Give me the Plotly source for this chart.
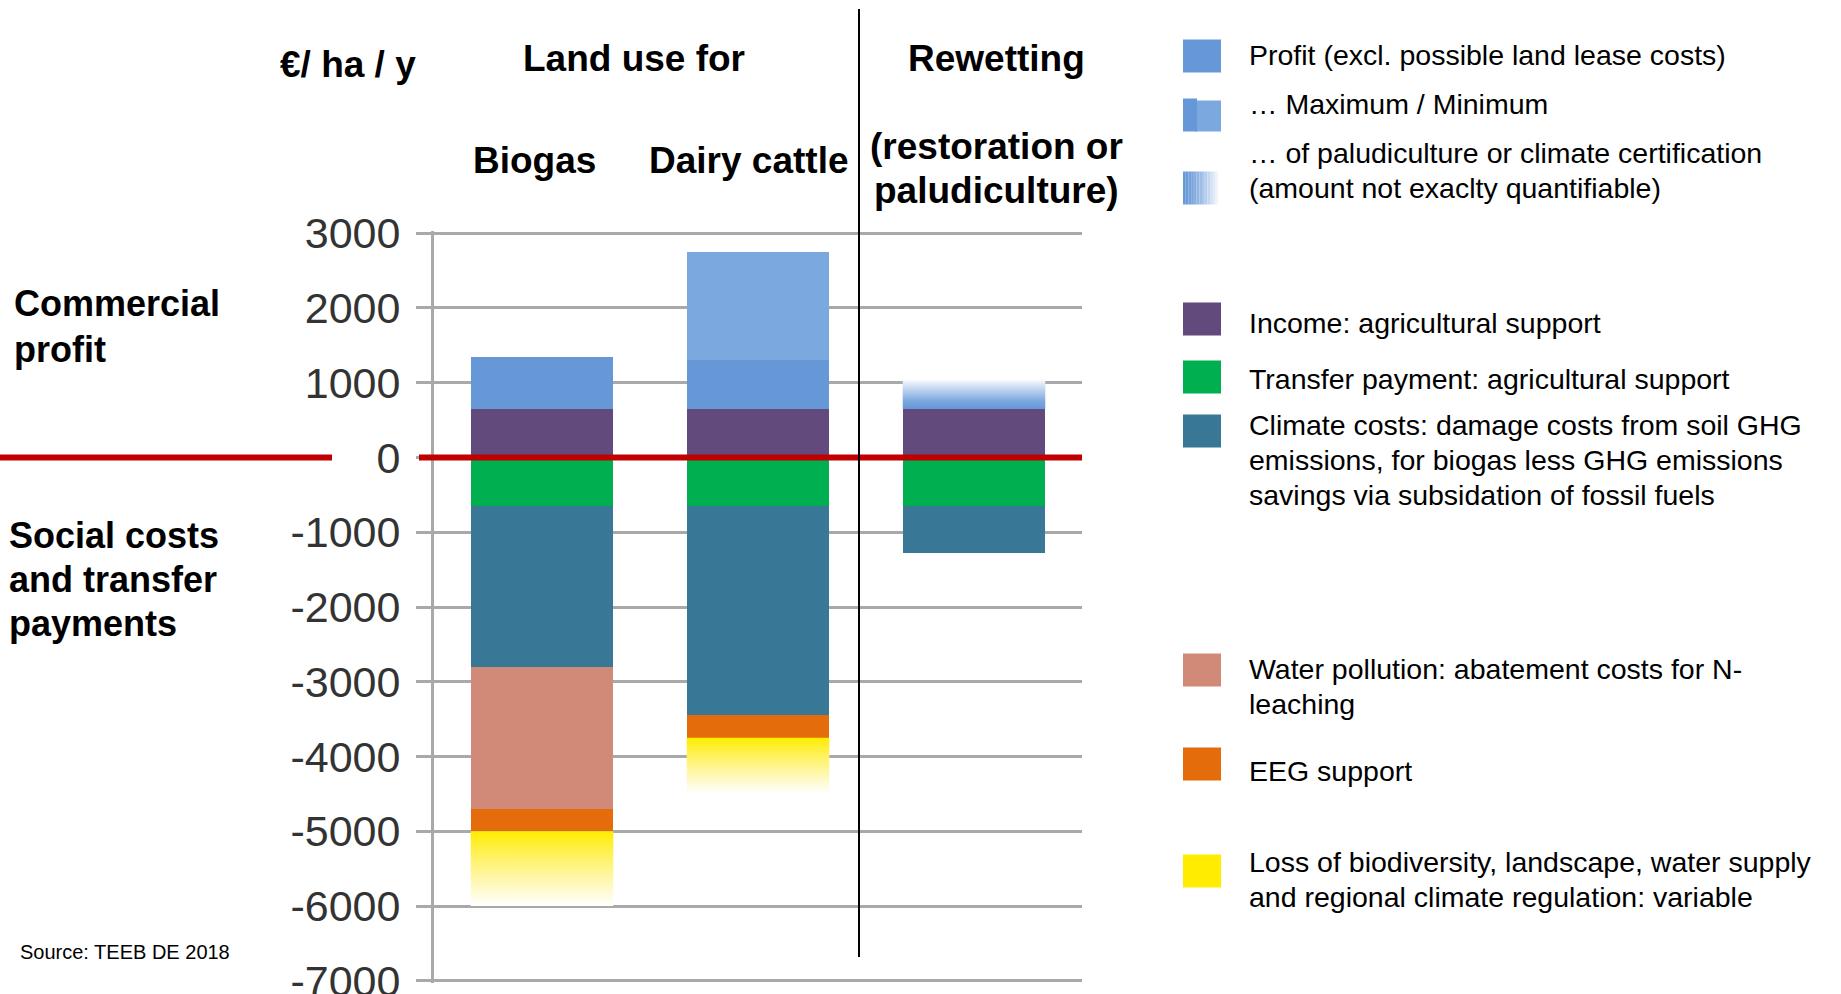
import numpy as np
import plotly.graph_objects as go

# ---------------- data ----------------
categories = ["Biogas", "Dairy cattle", "Rewetting"]
income_support = [650, 650, 650]          # purple
profit = [700, 650, 0]                     # blue (profit, minimum)
profit_max = [0, 1450, 0]                  # light blue (maximum)
profit_uncertain = [0, 0, 400]             # gradient (paludiculture / certification)
transfer_payment = [-650, -650, -650]      # green
climate_costs = [-2150, -2800, -630]       # teal
water_pollution = [-1900, 0, 0]            # salmon
eeg_support = [-300, -300, 0]              # orange
biodiversity_loss = [-1000, -750, 0]       # yellow gradient (variable)

tick_values = [-7000, -6000, -5000, -4000, -3000, -2000, -1000, 0, 1000, 2000, 3000]
tick_labels = [str(v) for v in tick_values]

legend_items = [
    ("Profit (excl. possible land lease costs)",),
    ("… Maximum / Minimum",),
    ("… of paludiculture or climate certification", "(amount not exaclty quantifiable)"),
    ("Income: agricultural support",),
    ("Transfer payment: agricultural support",),
    ("Climate costs: damage costs from soil GHG", "emissions, for biogas less GHG emissions",
     "savings via subsidation of fossil fuels"),
    ("Water pollution: abatement costs for N-", "leaching"),
    ("EEG support",),
    ("Loss of biodiversity, landscape, water supply", "and regional climate regulation: variable"),
]

# ---------------- styles ----------------
C_PROFIT = "#6698d8"
C_MAX = "#7ba8df"
C_INCOME = "#624a7c"
C_TRANSFER = "#00b050"
C_CLIMATE = "#387896"
C_WATER = "#d28a78"
C_EEG = "#e46c0a"
C_YELLOW = "#ffec00"
GRID = "#a9a9a9"
FONT = "Liberation Sans, Arial, sans-serif"

W, H = 1841, 994
PL, PR, PT, PB = 434, 1082, 231, 983
Y_RANGE = [-7030, 3030]
BAR_W = 0.66


def px_x(p):
    return (p - PL) / (PR - PL)


def px_y(p):
    return (PB - p) / (PB - PT)


idx = np.arange(len(categories))
fig = go.Figure()

solid = [
    (income_support, C_INCOME),
    (profit, C_PROFIT),
    (profit_max, C_MAX),
    (transfer_payment, C_TRANSFER),
    (climate_costs, C_CLIMATE),
    (water_pollution, C_WATER),
    (eeg_support, C_EEG),
]
for vals, col in solid:
    fig.add_trace(go.Bar(x=idx, y=vals, width=BAR_W, marker=dict(color=col, line=dict(width=0)),
                         hoverinfo="skip", showlegend=False))


def gradient_segment(i, base, value, colorscale):
    x0, x1 = idx[i] - BAR_W / 2, idx[i] + BAR_W / 2
    fig.add_trace(go.Scatter(
        x=[x0, x1, x1, x0, x0], y=[base, base, base + value, base + value, base],
        mode="lines", line=dict(width=0), fill="toself",
        fillgradient=dict(type="vertical", colorscale=colorscale),
        hoverinfo="skip", showlegend=False))


pos_base = np.array(income_support) + np.array(profit) + np.array(profit_max)
neg_base = (np.array(transfer_payment) + np.array(climate_costs) + np.array(water_pollution)
            + np.array(eeg_support))
for i in range(len(categories)):
    if profit_uncertain[i]:
        gradient_segment(i, pos_base[i], profit_uncertain[i],
                         [[0, C_PROFIT], [0.25, "#7aa6de"], [0.75, "#cfdff4"], [1, "#ffffff"]])
    if biodiversity_loss[i]:
        gradient_segment(i, neg_base[i], biodiversity_loss[i],
                         [[0, "#ffffff"], [0.35, "#fff7b0"], [0.75, "#fff04a"], [1, C_YELLOW]])

shapes = [
    # zero line (red)
    dict(type="line", xref="paper", yref="y", x0=px_x(0), x1=px_x(332), y0=0, y1=0,
         line=dict(color="#c00000", width=6), layer="above"),
    dict(type="line", xref="paper", yref="y", x0=px_x(419), x1=px_x(1082), y0=0, y1=0,
         line=dict(color="#c00000", width=6), layer="above"),
    # separator line
    dict(type="line", xref="paper", yref="paper", x0=px_x(859), x1=px_x(859), y0=px_y(957), y1=px_y(9),
         line=dict(color="black", width=2), layer="above"),
]

annotations = []


def text(s, x, y, size, bold=False, anchor="left", color="black"):
    annotations.append(dict(text=("<b>%s</b>" % s) if bold else s, xref="paper", yref="paper",
                            x=px_x(x), y=px_y(y), xanchor=anchor, yanchor="middle",
                            showarrow=False, font=dict(family=FONT, size=size, color=color)))


# headers
text("€/ ha / y", 348, 64, 37, True, "center")
text("Land use for", 634, 59, 37, True, "center")
text("Rewetting", 996, 59, 37, True, "center")
text("Biogas", 534, 160, 37, True, "center")
text("Dairy cattle", 749, 160, 37, True, "center")
text("(restoration or", 996, 146, 37, True, "center")
text("paludiculture)", 996, 190, 37, True, "center")
# left labels
text("Commercial", 12, 303, 36, True)
text("profit", 12, 349, 36, True)
text("Social costs", 7, 535, 36, True)
text("and transfer", 7, 579, 36, True)
text("payments", 7, 623, 36, True)
text("Source: TEEB DE 2018", 18, 952, 20)

# legend
sw_x0, sw_x1, sw_h = 1183, 1221, 33
swatch_y = [56, 115, 188, 319, 377, 431, 670, 764, 871]
text_y = [[55], [104], [153, 188], [323], [379], [425, 460, 495], [669, 704], [771], [862, 897]]
swatch_col = [C_PROFIT, None, None, C_INCOME, C_TRANSFER, C_CLIMATE, C_WATER, C_EEG, C_YELLOW]

for k, item in enumerate(legend_items):
    for line, ty in zip(item, text_y[k]):
        text(line, 1247, ty, 28.5)
    yc = swatch_y[k]
    y0, y1 = px_y(yc + sw_h / 2), px_y(yc - sw_h / 2)
    if k == 1:
        shapes.append(dict(type="rect", xref="paper", yref="paper", x0=px_x(sw_x0 + 12), x1=px_x(sw_x1),
                           y0=y0, y1=px_y(yc - sw_h / 2 + 2), fillcolor=C_MAX, line=dict(width=0)))
        shapes.append(dict(type="rect", xref="paper", yref="paper", x0=px_x(sw_x0), x1=px_x(sw_x0 + 14),
                           y0=y0, y1=y1, fillcolor=C_PROFIT, line=dict(width=0)))
    elif k == 2:
        n = 14
        for j in range(n):
            t = j / (n - 1)
            r = int(102 + (255 - 102) * t ** 1.3)
            g = int(152 + (255 - 152) * t ** 1.3)
            b = int(216 + (255 - 216) * t ** 1.3)
            xa = sw_x0 + (sw_x1 - sw_x0) * j / n
            xb = sw_x0 + (sw_x1 - sw_x0) * (j + 1) / n
            shapes.append(dict(type="rect", xref="paper", yref="paper", x0=px_x(xa), x1=px_x(xb),
                               y0=y0, y1=y1, fillcolor="rgb(%d,%d,%d)" % (r, g, b), line=dict(width=0)))
    else:
        shapes.append(dict(type="rect", xref="paper", yref="paper", x0=px_x(sw_x0), x1=px_x(sw_x1),
                           y0=y0, y1=y1, fillcolor=swatch_col[k], line=dict(width=0)))

fig.update_layout(
    width=W, height=H,
    margin=dict(l=PL, r=W - PR, t=PT, b=H - PB, pad=0, autoexpand=False),
    barmode="relative", bargap=0,
    plot_bgcolor="white", paper_bgcolor="white",
    shapes=shapes, annotations=annotations,
    xaxis=dict(range=[-0.5, 2.5], showgrid=False, showline=False, zeroline=False,
               showticklabels=False, ticks="", automargin=False),
    yaxis=dict(range=Y_RANGE, tickvals=tick_values, ticktext=tick_labels, automargin=False,
               showgrid=True, gridcolor=GRID, gridwidth=3, zeroline=False,
               showline=True, linecolor=GRID, linewidth=3,
               ticks="outside", ticklen=15, tickwidth=3, tickcolor=GRID,
               ticklabelstandoff=7, ticklabeloverflow="allow",
               tickfont=dict(family=FONT, size=43, color="#333333")),
)

post = (
    "document.documentElement.style.overflow='hidden';"
    "document.body.style.margin='0';document.body.style.overflow='hidden';"
    "var gd=document.getElementById('{plot_id}');"
    "gd.style.overflow='hidden';gd.style.height='994px';"
    "gd.querySelectorAll('svg.main-svg').forEach(function(s){s.style.overflow='hidden';});"
)
fig.write_html("out.html", config={"displayModeBar": False}, post_script=post)
